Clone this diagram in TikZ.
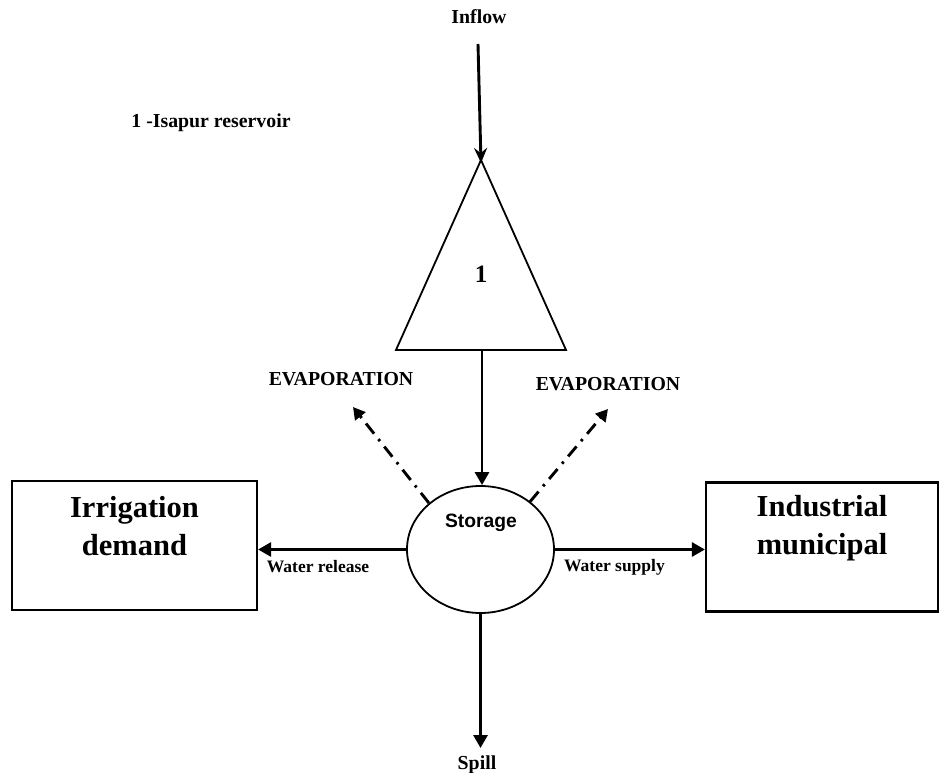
\documentclass[tikz,border=0pt]{standalone}
\usepackage{fontspec}
\setmainfont{Liberation Serif}
\newfontfamily\arialfont{Liberation Sans}
\usetikzlibrary{arrows.meta,shapes.geometric}
\begin{document}
\begin{tikzpicture}[x=1pt,y=-1pt,
  flow/.style={line width=2.9pt,-{Triangle[length=13pt,width=14pt]}},
  inflowarrow/.style={line width=2.9pt,-{Stealth[length=15pt,width=13pt,inset=5pt]}},
  evap/.style={line width=2.9pt,dash pattern=on 13pt off 7pt on 2.5pt off 7pt,-{Triangle[length=12pt,width=13pt]}},
  lbl/.style={font=\fontsize{19.8}{23}\selectfont\bfseries,inner sep=0pt},
  smalllbl/.style={font=\fontsize{17.5}{20}\selectfont\bfseries,inner sep=0pt},
  bigtxt/.style={font=\fontsize{30.5}{38}\selectfont\bfseries,align=center,inner sep=0pt},
  boxnode/.style={draw,line width=2.2pt,minimum width=245pt,minimum height=129pt,inner sep=0pt}
]
\useasboundingbox (0,0) rectangle (940,773);

% texts at top
\node[lbl] (inflowtxt) at (479,17) {Inflow};
\node[lbl] (isapur) at (211,123) {1 -Isapur reservoir};

% triangle
\coordinate (apex) at (481,160);
\coordinate (bl) at (396,350);
\coordinate (br) at (566,350);
\coordinate (bmid) at (482,349);
\draw[line width=1.8pt,line join=miter] (apex) -- (bl) -- (br) -- cycle;
\node[font=\fontsize{25}{30}\selectfont\bfseries,inner sep=0pt] (one) at (481,274) {1};

\coordinate (instart) at (478,44);
\coordinate (intip) at (481,163);
\draw[inflowarrow] (instart) -- (intip);

% storage
\node[draw,ellipse,line width=1.8pt,minimum width=147pt,minimum height=127pt,inner sep=0pt] (stor) at (480.5,549.5) {};
\node[font=\arialfont\fontsize{19.3}{23}\selectfont\bfseries,inner sep=0pt] (stortxt) at (481,523) {Storage};
\draw[flow] (bmid) -- (bmid |- stor.north);

% boxes
\node[boxnode] (irr) at (134.5,545.5) {};
\node[bigtxt] (irrtxt) at (134.5,526) {Irrigation\\demand};
\node[boxnode,minimum width=232pt,minimum height=129pt] (ind) at (822,547) {};
\node[bigtxt] (indtxt) at (822,528) {Industrial\\municipal};

\draw[flow] (stor.west) -- (stor.west -| irr.east);
\draw[flow] (stor.east) -- (stor.east -| ind.west);
\node[smalllbl] (reltxt) at (318,567) {Water release};
\node[smalllbl] (suptxt) at (614.5,567) {Water supply};

% spill
\coordinate (spillend) at (480.5,748);
\draw[flow] (stor.south) -- (spillend);
\node[lbl] (spilltxt) at (477,765) {Spill};

% evaporation
\coordinate (evl) at (353,407);
\coordinate (evr) at (608,409);
\draw[evap] (stor.138) -- (evl);
\draw[evap] (stor.44) -- (evr);
\node[lbl] (evltxt) at (341,379) {EVAPORATION};
\node[lbl] (evrtxt) at (608,384) {EVAPORATION};
\end{tikzpicture}
\end{document}
